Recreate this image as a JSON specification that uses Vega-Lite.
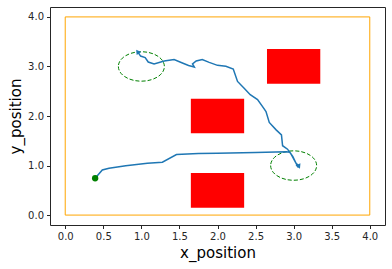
{
  "$schema": "https://vega.github.io/schema/vega-lite/v6.json",
  "width": 335,
  "height": 218,
  "autosize": {"type": "none"},
  "padding": {"left": 50, "top": 7, "right": 7, "bottom": 44},
  "background": "white",
  "config": {
    "font": "DejaVu Sans",
    "view": {"stroke": "#262626", "strokeWidth": 1},
    "axis": {
      "grid": false,
      "domain": false,
      "tickColor": "#262626",
      "tickSize": 3.5,
      "labelFontSize": 10,
      "labelColor": "#262626",
      "titleFontSize": 15,
      "titleFontWeight": "normal",
      "titleColor": "#000000"
    }
  },
  "datasets": {
    "boundary": [{"x0": 0, "x1": 4, "y0": 0, "y1": 4}],
    "obstacles": [
      {"x0": 1.65, "x1": 2.35, "y0": 1.65, "y1": 2.35},
      {"x0": 2.65, "x1": 3.35, "y0": 2.65, "y1": 3.35},
      {"x0": 1.65, "x1": 2.35, "y0": 0.15, "y1": 0.85}
    ],
    "goals": [{"x": 1.0, "y": 3.0}, {"x": 3.0, "y": 1.0}],
    "start": [{"x": 0.393, "y": 0.743}],
    "ends": [
      {"x": 0.95, "y": 3.30, "a": -35},
      {"x": 3.07, "y": 0.98, "a": 155}
    ],
    "path": [
      {"i": 0, "x": 0.393, "y": 0.743},
      {"i": 1, "x": 0.487, "y": 0.911},
      {"i": 2, "x": 0.575, "y": 0.945},
      {"i": 3, "x": 0.795, "y": 0.998},
      {"i": 4, "x": 1.079, "y": 1.047},
      {"i": 5, "x": 1.276, "y": 1.067},
      {"i": 6, "x": 1.461, "y": 1.221},
      {"i": 7, "x": 1.75, "y": 1.241},
      {"i": 8, "x": 2.0, "y": 1.25},
      {"i": 9, "x": 2.5, "y": 1.265},
      {"i": 10, "x": 2.9, "y": 1.28},
      {"i": 11, "x": 2.95, "y": 1.27},
      {"i": 12, "x": 2.99, "y": 1.18},
      {"i": 13, "x": 3.03, "y": 1.05},
      {"i": 14, "x": 3.075, "y": 0.978},
      {"i": 15, "x": 3.04, "y": 1.02},
      {"i": 16, "x": 3.06, "y": 0.96},
      {"i": 17, "x": 3.02, "y": 1.08},
      {"i": 18, "x": 2.97, "y": 1.22},
      {"i": 19, "x": 2.92, "y": 1.33},
      {"i": 20, "x": 2.855, "y": 1.40},
      {"i": 21, "x": 2.84, "y": 1.62},
      {"i": 22, "x": 2.77, "y": 1.72},
      {"i": 23, "x": 2.68, "y": 1.87},
      {"i": 24, "x": 2.637, "y": 2.09},
      {"i": 25, "x": 2.592, "y": 2.19},
      {"i": 26, "x": 2.526, "y": 2.33},
      {"i": 27, "x": 2.43, "y": 2.43},
      {"i": 28, "x": 2.35, "y": 2.56},
      {"i": 29, "x": 2.263, "y": 2.698},
      {"i": 30, "x": 2.207, "y": 2.949},
      {"i": 31, "x": 2.11, "y": 3.002},
      {"i": 32, "x": 2.0, "y": 3.022},
      {"i": 33, "x": 1.891, "y": 3.083},
      {"i": 34, "x": 1.80, "y": 3.14},
      {"i": 35, "x": 1.72, "y": 3.11},
      {"i": 36, "x": 1.672, "y": 3.05},
      {"i": 37, "x": 1.695, "y": 2.99},
      {"i": 38, "x": 1.62, "y": 3.02},
      {"i": 39, "x": 1.539, "y": 3.07},
      {"i": 40, "x": 1.43, "y": 3.138},
      {"i": 41, "x": 1.30, "y": 3.11},
      {"i": 42, "x": 1.167, "y": 3.05},
      {"i": 43, "x": 1.09, "y": 3.09},
      {"i": 44, "x": 1.05, "y": 3.18},
      {"i": 45, "x": 0.99, "y": 3.21},
      {"i": 46, "x": 0.95, "y": 3.30}
    ]
  },
  "layer": [
    {
      "data": {"name": "boundary"},
      "mark": {"type": "rect", "fill": null, "fillOpacity": 0, "stroke": "orange", "strokeWidth": 1},
      "encoding": {
        "x": {"field": "x0", "type": "quantitative",
          "scale": {"domain": [-0.2, 4.2], "nice": false, "zero": false},
          "axis": {"values": [0, 0.5, 1, 1.5, 2, 2.5, 3, 3.5, 4], "format": ".1f", "title": "x_position", "titlePadding": 4, "labelPadding": 3}},
        "x2": {"field": "x1"},
        "y": {"field": "y0", "type": "quantitative",
          "scale": {"domain": [-0.2, 4.2], "nice": false, "zero": false},
          "axis": {"values": [0, 0.5, 1, 1.5, 2, 2.5, 3, 3.5, 4], "format": ".1f", "title": "y_position", "titlePadding": 4, "labelPadding": 3}},
        "y2": {"field": "y1"}
      }
    },
    {
      "data": {"name": "obstacles"},
      "mark": {"type": "rect", "color": "red"},
      "encoding": {
        "x": {"field": "x0", "type": "quantitative"},
        "x2": {"field": "x1"},
        "y": {"field": "y0", "type": "quantitative"},
        "y2": {"field": "y1"}
      }
    },
    {
      "data": {"name": "goals"},
      "mark": {"type": "point", "shape": "M -1 0 A 1 0.64 0 1 0 1 0 A 1 0.64 0 1 0 -1 0 Z", "size": 2116, "filled": false, "stroke": "green", "strokeWidth": 1, "strokeDash": [4, 2], "opacity": 1},
      "encoding": {
        "x": {"field": "x", "type": "quantitative"},
        "y": {"field": "y", "type": "quantitative"}
      }
    },
    {
      "data": {"name": "path"},
      "mark": {"type": "line", "color": "#1f77b4", "strokeWidth": 1.5},
      "encoding": {
        "x": {"field": "x", "type": "quantitative"},
        "y": {"field": "y", "type": "quantitative"},
        "order": {"field": "i", "type": "quantitative"}
      }
    },
    {
      "data": {"name": "ends"},
      "mark": {"type": "point", "shape": "triangle-up", "size": 30, "filled": true, "color": "#1f77b4", "opacity": 1},
      "encoding": {
        "x": {"field": "x", "type": "quantitative"},
        "y": {"field": "y", "type": "quantitative"},
        "angle": {"field": "a", "type": "quantitative", "scale": null}
      }
    },
    {
      "data": {"name": "start"},
      "mark": {"type": "point", "shape": "circle", "size": 40, "filled": true, "color": "green", "opacity": 1},
      "encoding": {
        "x": {"field": "x", "type": "quantitative"},
        "y": {"field": "y", "type": "quantitative"}
      }
    }
  ]
}
